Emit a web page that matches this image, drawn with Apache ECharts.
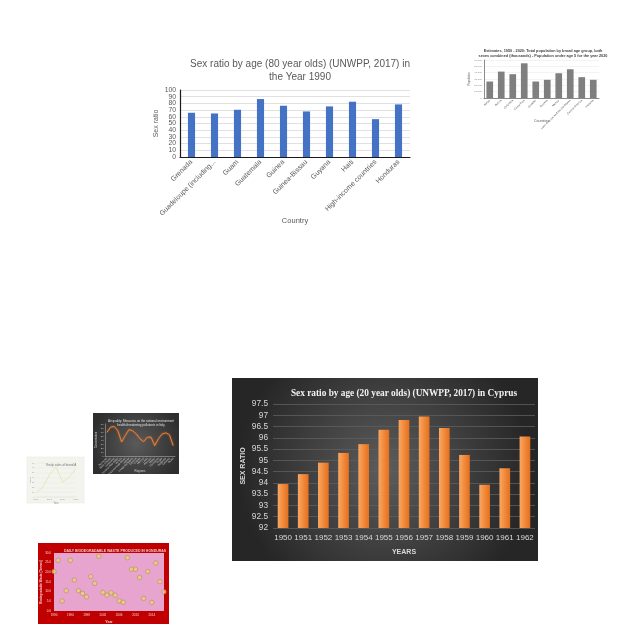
<!DOCTYPE html>
<html><head><meta charset="utf-8">
<script src="https://cdn.jsdelivr.net/npm/echarts@6/dist/echarts.min.js"></script>
<style>html,body{margin:0;padding:0;background:#fff}#c{width:640px;height:640px}</style>
</head><body><div id="c"></div><script>
// Chart 1: Sex ratio 80 year olds 1990
const c1Countries = ['Grenada','Guadeloupe (including...','Guam','Guatemala','Guinea','Guinea-Bissau','Guyana','Haiti','High-income countries','Honduras'];
const c1Values = [66, 65, 70.5, 86.5, 76.5, 68, 75.5, 82.5, 56.5, 78.5];
// Chart 2: population under age 5
const c2Countries = ['Belize','Bolivia','Colombia','Costa Rica','Ecuador','Guyana','Mexico','Latin America and the Caribbean','Central America','Panama'];
const c2Values = [26000, 41700, 37600, 54800, 26000, 28700, 39100, 45400, 32900, 28700];
// Chart 3: Cyprus 20 year olds
const c3Years = ['1950','1951','1952','1953','1954','1955','1956','1957','1958','1959','1960','1961','1962'];
const c3Values = [93.95, 94.39, 94.9, 95.33, 95.72, 96.36, 96.79, 96.95, 96.43, 95.24, 93.92, 94.65, 96.06];
// Chart 4: air quality line
const c4Labels = ['Piemonte',"Valle d'Aosta",'Lombardia','Trentino-Alto Adige','Veneto','Friuli-Venezia Giulia','Liguria','Emilia-Romagna','Toscana','Umbria','Marche','Lazio','Abruzzo','Molise','Campania','Puglia','Basilicata','Calabria','Sicilia'];
const c4Values = [59, 72, 74, 63, 35, 51, 66, 63, 55, 43, 36, 47, 47, 26, 43, 55, 58, 53, 26];
// Chart 5: yearly sales
const c5Labels = ['2010','2011','2012','2013','2014','2015','2016'];
const c5Values = [8, 20, 45, 62, 30, 42, 58];
// Chart 6: daily biodegradable waste
const c6Dates = ['1990','1991','1992','1993','1994','1995','1996','1997','1998','1999','2000','2001','2002','2003','2004','2005','2006','2007','2008','2009','2010','2011','2012','2013','2014','2015','2016','2017'];
const c6Values = [20.4, 26.2, 5.2, 10.5, 26.2, 16.0, 10.5, 9.1, 7.3, 17.8, 14.3, 28.3, 9.6, 8.2, 9.4, 8.2, 5.2, 4.5, 27.6, 21.6, 21.6, 17.3, 6.5, 20.4, 4.4, 24.8, 15.2, 9.9];

const F = 'Liberation Sans, Arial, sans-serif';
const chart = echarts.init(document.getElementById('c'), null, {renderer:'canvas'});

const c1LabelStyle = {fontFamily:F, fontSize:6.8, color:'#595959', margin:4};

const option = {
  animation: false,
  backgroundColor: '#ffffff',
  graphic: [
    {type:'rect', z:-10, shape:{x:232,y:378,width:306,height:183},
      style:{fill:new echarts.graphic.RadialGradient(0.5,0.5,0.8,[{offset:0,color:'#5c5c5c'},{offset:1,color:'#262626'}])}},
    {type:'rect', z:-10, shape:{x:93,y:413,width:86,height:61},
      style:{fill:new echarts.graphic.RadialGradient(0.5,0.5,0.75,[{offset:0,color:'#5a5a5a'},{offset:1,color:'#2e2e2e'}])}},
    {type:'rect', z:-10, shape:{x:27,y:457,width:57,height:46}, style:{fill:'#f4f4ef', stroke:'#e6e6e0', lineWidth:0.5}},
    {type:'rect', z:-10, shape:{x:38,y:543,width:131,height:81}, style:{fill:'#c00000'}}
  ],
  title: [
    {text:'Sex ratio by age (80 year olds) (UNWPP, 2017) in\nthe Year 1990', left:295, top:53, textAlign:'center',
      textStyle:{fontFamily:F, fontSize:10, fontWeight:'normal', color:'#595959', lineHeight:13}},
    {text:'Estimates, 1950 - 2020: Total population by broad age group, both\nsexes combined (thousands) - Population under age 5 for the year 2020', left:538, top:43, textAlign:'center',
      textStyle:{fontFamily:F, fontSize:3.8, fontWeight:'bold', color:'#404040', lineHeight:5}},
    {text:'Sex ratio by age (20 year olds) (UNWPP, 2017) in Cyprus', left:399, top:384, textAlign:'center',
      textStyle:{fontFamily:'Liberation Serif, serif', fontSize:9.3, fontWeight:'bold', color:'#f2f2f2'}},
    {text:'Air quality: Measures on the national environment\nhealth-threatening pollutants in Italy', left:136, top:414, textAlign:'center',
      textStyle:{fontFamily:F, fontSize:3, fontWeight:'normal', color:'#e0e0e0', lineHeight:4}},
    {text:'Yearly sales of brand A', left:56, top:459, textAlign:'center',
      textStyle:{fontFamily:F, fontSize:3, fontWeight:'normal', color:'#707070'}},
    {text:'DAILY BIODEGRADABLE WASTE PRODUCED IN HONDURAS', left:110, top:544, textAlign:'center',
      textStyle:{fontFamily:F, fontSize:3.5, fontWeight:'bold', color:'#f2c8c8'}}
  ],
  grid: [
    {left:180, top:90, width:230, height:67},
    {left:484, top:60, width:115, height:38},
    {left:273, top:404, width:262, height:124},
    {left:105, top:424, width:70, height:32},
    {left:36, top:463, width:40, height:34},
    {left:54, top:553, width:110, height:58, show:true, backgroundColor:'#e6a4ce', borderWidth:0}
  ],
  xAxis: [
    {gridIndex:0, type:'category', data:c1Countries, name:'Country', nameLocation:'middle', nameGap:60, nameMoveOverlap:false,
      nameTextStyle:{fontFamily:F, fontSize:7.5, color:'#595959'},
      axisLine:{lineStyle:{color:'#1a1a1a', width:1.2}}, axisTick:{show:false},
      axisLabel:{interval:0, rotate:45, fontFamily:F, fontSize:7, color:'#595959', margin:4}},
    {gridIndex:1, type:'category', data:c2Countries, name:'Countries', nameLocation:'middle', nameGap:21, nameMoveOverlap:false,
      nameTextStyle:{fontFamily:F, fontSize:3.5, color:'#595959'},
      axisLine:{lineStyle:{color:'#404040', width:0.6}}, axisTick:{show:false},
      axisLabel:{interval:0, rotate:45, fontFamily:F, fontSize:2.8, color:'#595959', margin:2}},
    {gridIndex:2, type:'category', data:c3Years, name:'YEARS', nameLocation:'middle', nameGap:21, nameMoveOverlap:false,
      nameTextStyle:{fontFamily:F, fontSize:7, fontWeight:'bold', color:'#d9d9d9'},
      axisLine:{show:false}, axisTick:{show:false},
      axisLabel:{interval:0, fontFamily:F, fontSize:8, color:'#d9d9d9', margin:6}},
    {gridIndex:3, type:'category', data:c4Labels, name:'Regions', nameLocation:'middle', nameGap:14, nameMoveOverlap:false,
      nameTextStyle:{fontFamily:F, fontSize:3, color:'#d0d0d0'},
      axisLine:{lineStyle:{color:'#bfbfbf', width:0.5}}, axisTick:{show:false},
      axisLabel:{interval:0, rotate:45, fontFamily:F, fontSize:2.6, color:'#d0d0d0', margin:2}},
    {gridIndex:4, type:'category', data:c5Labels, boundaryGap:false, name:'Year', nameLocation:'middle', nameGap:5, nameMoveOverlap:false,
      nameTextStyle:{fontFamily:F, fontSize:2.6, color:'#909090'},
      axisLine:{lineStyle:{color:'#d8d8d8', width:0.4}}, axisTick:{show:false},
      axisLabel:{fontFamily:F, fontSize:2.4, color:'#a0a0a0', margin:1.5}},
    {gridIndex:5, type:'category', data:c6Dates, boundaryGap:false, name:'Year', nameLocation:'middle', nameGap:9, nameMoveOverlap:false,
      nameTextStyle:{fontFamily:F, fontSize:3.5, fontWeight:'bold', color:'#f2d0d0'},
      axisLine:{show:false}, axisTick:{show:false},
      axisLabel:{interval:3, fontFamily:F, fontSize:3, color:'#f2d0d0', margin:3}}
  ],
  yAxis: [
    {gridIndex:0, type:'value', min:0, max:100, interval:10, name:'Sex ratio', nameLocation:'middle', nameGap:20, nameRotate:90, nameMoveOverlap:false,
      nameTextStyle:{fontFamily:F, fontSize:7, color:'#595959'},
      axisLine:{show:true, lineStyle:{color:'#1a1a1a', width:1.2}}, axisTick:{show:false},
      splitLine:{lineStyle:{color:'#d9d9d9', width:0.8}},
      axisLabel:Object.assign({showMinLabel:true, showMaxLabel:true, formatter:v=>(v%20===0?String(v):'')}, c1LabelStyle)},
    {gridIndex:1, type:'value', min:0, max:60000, interval:10000, name:'Population', nameLocation:'middle', nameGap:13, nameRotate:90, nameMoveOverlap:false,
      nameTextStyle:{fontFamily:F, fontSize:2.8, color:'#595959'},
      axisLine:{show:true, lineStyle:{color:'#404040', width:0.6}}, axisTick:{show:false},
      splitLine:{lineStyle:{color:'#e6e6e6', width:0.5}},
      axisLabel:{fontFamily:F, fontSize:2.5, color:'#808080', margin:2}},
    {gridIndex:2, type:'value', min:92, max:97.5, interval:0.5, name:'SEX RATIO', nameLocation:'middle', nameGap:26, nameRotate:90, nameMoveOverlap:false,
      nameTextStyle:{fontFamily:F, fontSize:7, fontWeight:'bold', color:'#d9d9d9'},
      axisLine:{show:false}, axisTick:{show:false},
      splitLine:{lineStyle:{color:'#5e5e5e', width:0.8}},
      axisLabel:{fontFamily:F, fontSize:8.3, color:'#d9d9d9', margin:5, showMinLabel:true, showMaxLabel:true}},
    {gridIndex:3, type:'value', min:0, max:80, interval:10, name:'Concentration', nameLocation:'middle', nameGap:7, nameRotate:90, nameMoveOverlap:false,
      nameTextStyle:{fontFamily:F, fontSize:2.6, color:'#d0d0d0'},
      axisLine:{show:true, lineStyle:{color:'#bfbfbf', width:0.5}}, axisTick:{show:false},
      splitLine:{show:false},
      axisLabel:{fontFamily:F, fontSize:2.4, color:'#d0d0d0', margin:1.5}},
    {gridIndex:4, type:'value', min:0, max:70, interval:10, name:'Sales', nameLocation:'middle', nameGap:5, nameRotate:90, nameMoveOverlap:false,
      nameTextStyle:{fontFamily:F, fontSize:2.4, color:'#909090'},
      axisLine:{show:false}, axisTick:{show:false},
      splitLine:{lineStyle:{color:'#e4e4de', width:0.4}},
      axisLabel:{fontFamily:F, fontSize:2.2, color:'#a0a0a0', margin:1.5}},
    {gridIndex:5, type:'value', min:0, max:30, interval:5, name:'Biodegradable Waste (Tonnes)', nameLocation:'middle', nameGap:11, nameRotate:90, nameMoveOverlap:false,
      nameTextStyle:{fontFamily:F, fontSize:3, fontWeight:'bold', color:'#f2d0d0'},
      axisLine:{show:false}, axisTick:{show:false},
      splitLine:{show:false},
      axisLabel:{fontFamily:F, fontSize:3, color:'#f2d0d0', margin:3, formatter:v=>v.toFixed(1)}},
    // second label-only axis for chart 1 (odd tens)
    {gridIndex:0, type:'value', position:'left', min:0, max:100, interval:10,
      axisLine:{show:false}, axisTick:{show:false}, splitLine:{show:false},
      axisLabel:Object.assign({showMinLabel:false, showMaxLabel:false, formatter:v=>(v%20===10?String(v):'')}, c1LabelStyle)}
  ],
  series: [
    {type:'bar', xAxisIndex:0, yAxisIndex:0, data:c1Values, barWidth:'31%', itemStyle:{color:'#4472c4'}},
    {type:'bar', xAxisIndex:1, yAxisIndex:1, data:c2Values, barWidth:'58%', itemStyle:{color:'#7f7f7f'}},
    {type:'bar', xAxisIndex:2, yAxisIndex:2, data:c3Values, barWidth:'53%',
      itemStyle:{color:new echarts.graphic.LinearGradient(0,0,1,0,[{offset:0,color:'#f7a867'},{offset:0.5,color:'#f28a3a'},{offset:1,color:'#e2701f'}])}},
    {type:'line', xAxisIndex:3, yAxisIndex:3, data:c4Values, symbol:'none',
      lineStyle:{color:'#ed7d31', width:1, shadowColor:'rgba(237,125,49,0.8)', shadowBlur:2}},
    {type:'line', xAxisIndex:4, yAxisIndex:4, data:c5Values, symbol:'none', smooth:false,
      lineStyle:{color:'#dfe5a8', width:0.8}},
    {type:'scatter', xAxisIndex:5, yAxisIndex:5, data:c6Values, symbol:'circle', symbolSize:4.5,
      itemStyle:{color:'#ecd07a', borderColor:'#9a7a34', borderWidth:0.5}}
  ]
};
chart.setOption(option);
</script></body></html>
